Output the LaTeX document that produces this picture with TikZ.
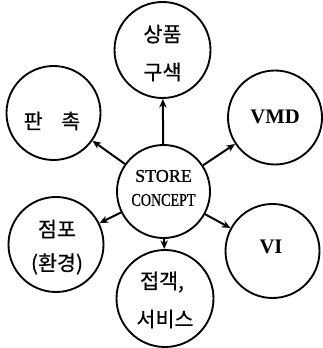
\documentclass[tikz,border=0pt]{standalone}
\usepackage{fontspec}
\setmainfont{Liberation Serif}
\newfontfamily\kr[FakeBold=0.5]{Noto Sans CJK KR}
\newfontfamily\hubfont[FakeBold=0.9]{Liberation Serif}
\usetikzlibrary{arrows.meta}
\tikzset{
  topic/.style={circle, draw, line width=1.4pt, minimum size=#1, inner sep=0pt, align=center},
  topic/.default=71pt,
  link/.style={line width=1.5pt, -{Stealth[length=6.5pt,width=5.5pt]}},
  krtext/.style={font=\kr\fontsize{15.5}{16}\selectfont},
  latin/.style={font=\fontsize{15.5}{16}\selectfont\bfseries},
  hubtext/.style={font=\hubfont\fontsize{13.5}{14}\selectfont}
}
\begin{document}
\begin{tikzpicture}[x=0.75pt,y=-0.75pt]
  \useasboundingbox (0,0) rectangle (322,348);
  % hub and its six topics
  \node[topic=69.75pt] (hub) at (163.5,191.5) {};
  \node[topic=72pt] (goods) at (162.5,50) {};
  \node[topic=70.5pt] (promo) at (53.5,113) {};
  \node[topic=70.5pt] (vmd) at (275,117.5) {};
  \node[topic=71.25pt] (shop) at (56,244.5) {};
  \node[topic=70.5pt] (vi) at (272.5,251) {};
  \node[topic=72.75pt] (serve) at (165,298.5) {};
  % labels
  \node[hubtext] at (163.5,176) {STORE};
  \node[hubtext] at (163.5,200) {\scalebox{0.78}[1]{CONCEPT}};
  \node[krtext] at (162.5,34) {상품};
  \node[krtext] at (162.5,72) {구색};
  \node[krtext] at (52,121) {판\hspace{0.9em}촉};
  \node[latin] at (275,117) {VMD};
  \node[krtext] at (57,229) {점포};
  \node[krtext] at (57,264) {(환경)};
  \node[latin] at (271,247) {VI};
  \node[krtext] at (162,282) {접객,};
  \node[krtext] at (165,319) {서비스};
  % connectors
  \foreach \t in {goods,promo,vmd,shop,vi,serve}
    \draw[link] (hub) -- (\t);
\end{tikzpicture}
\end{document}
